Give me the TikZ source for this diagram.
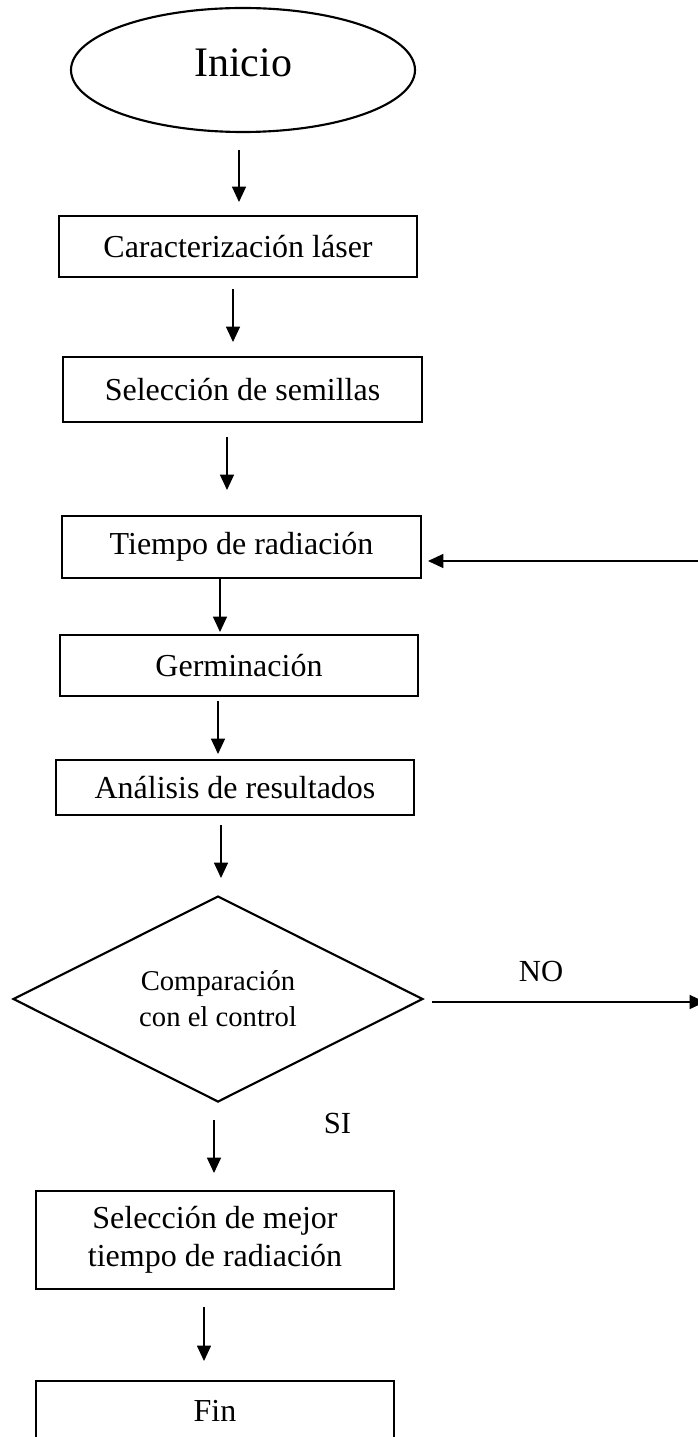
\documentclass[tikz,border=0pt]{standalone}
\usepackage{fontspec}
\setmainfont{Liberation Serif}
\usetikzlibrary{arrows.meta,shapes.geometric}
\begin{document}
\begin{tikzpicture}[x=0.75pt,y=-0.75pt,
  box/.style={draw, line width=0.95pt, rectangle, inner sep=0pt, align=center,
    font=\fontsize{24}{28.5}\selectfont},
  arr/.style={line width=0.95pt, -{Triangle[length=11.5pt,width=10.5pt]}},
  lbl/.style={anchor=base, inner sep=0pt, font=\fontsize{23}{27}\selectfont},
]
\useasboundingbox (0,0) rectangle (698,1437);

% start ellipse
\node[draw, ellipse, line width=1.6pt, inner sep=0pt,
      minimum width={344*0.75pt}, minimum height={124*0.75pt},
      font=\fontsize{31.5}{36}\selectfont, text depth=11pt] (ini) at (243,70) {Inicio};

% process boxes
\node[box, minimum width={358*0.75pt}, minimum height={61*0.75pt}] (b1) at (238,246.5) {Caracterización láser};
\node[box, minimum width={359*0.75pt}, minimum height={65*0.75pt}] (b2) at (242.5,389.5) {Selección de semillas};
\node[box, minimum width={359*0.75pt}, minimum height={62*0.75pt}] (b3) at (241.5,547) {Tiempo de radiación};
\node[box, minimum width={358*0.75pt}, minimum height={61*0.75pt}] (b4) at (239,665.5) {Germinación};
\node[box, minimum width={358*0.75pt}, minimum height={55*0.75pt}] (b5) at (235,787.5) {Análisis de resultados};

% decision
\node[draw, diamond, aspect=2, line width=1.6pt, inner sep=0pt, align=center,
      minimum width={410*0.75pt}, minimum height={206*0.75pt},
      font=\fontsize{21.5}{27}\selectfont] (dia) at (218,999) {Comparación\\con el control};

\node[box, minimum width={358*0.75pt}, minimum height={98*0.75pt}] (b6) at (215,1240) {Selección de mejor\\tiempo de radiación};
\node[box, minimum width={358*0.75pt}, minimum height={59*0.75pt}] (b7) at (215,1410.5) {Fin};

% branch labels
\node[lbl] (no) at (541,981) {NO};
\node[lbl] (si) at (337.5,1133) {SI};

% connector end points (arrows float between the shapes)
\coordinate (a1s) at (239,150);  \coordinate (a1e) at (239,202);
\coordinate (a2s) at (233,289);  \coordinate (a2e) at (233,342);
\coordinate (a3s) at (227,437);  \coordinate (a3e) at (227,490);
\coordinate (a4s) at (220,579);  \coordinate (a4e) at (220,632);
\coordinate (a5s) at (218,701);  \coordinate (a5e) at (218,754);
\coordinate (a6s) at (221,825);  \coordinate (a6e) at (221,878);
\coordinate (a7s) at (214,1120); \coordinate (a7e) at (214,1173);
\coordinate (a8s) at (204,1307); \coordinate (a8e) at (204,1361);
\coordinate (fbs) at (700,561);  \coordinate (fbe) at (428,561);
\coordinate (nos) at (432,1002); \coordinate (noe) at (705,1002);

\draw[arr] (a1s) -- (a1e);
\draw[arr] (a2s) -- (a2e);
\draw[arr] (a3s) -- (a3e);
\draw[arr] (a4s) -- (a4e);
\draw[arr] (a5s) -- (a5e);
\draw[arr] (a6s) -- (a6e);
\draw[arr] (a7s) -- (a7e);
\draw[arr] (a8s) -- (a8e);
\draw[arr] (fbs) -- (fbe);
\draw[arr] (nos) -- (noe);
\end{tikzpicture}
\end{document}
